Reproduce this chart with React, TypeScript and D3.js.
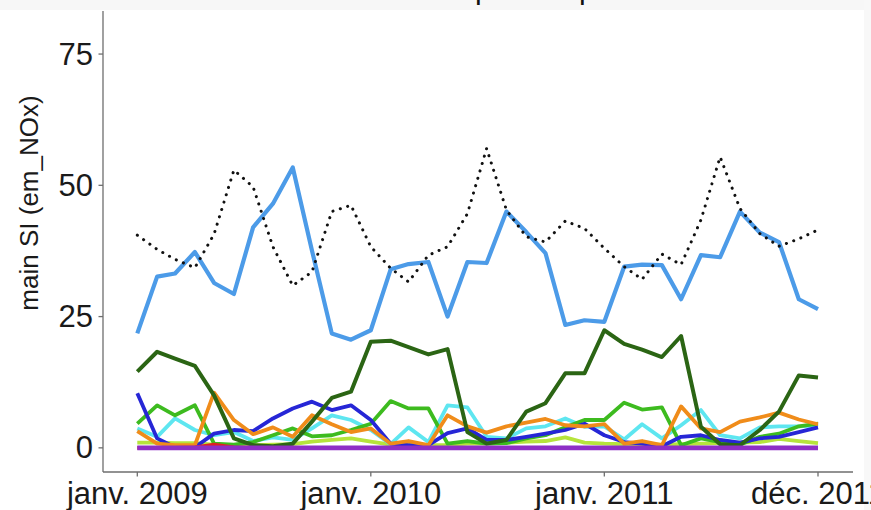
import React from "react";
import * as d3 from "d3";

const months: string[] = [
  "2009-01","2009-02","2009-03","2009-04","2009-05","2009-06","2009-07","2009-08","2009-09","2009-10","2009-11","2009-12",
  "2010-01","2010-02","2010-03","2010-04","2010-05","2010-06","2010-07","2010-08","2010-09","2010-10","2010-11","2010-12",
  "2011-01","2011-02","2011-03","2011-04","2011-05","2011-06","2011-07","2011-08","2011-09","2011-10","2011-11","2011-12",
];

const totalDotted = [40.5,37.8,35.9,34.3,40.7,52.9,49.7,38.3,30.9,33.5,45.0,46.2,38.3,34.2,31.6,36.7,38.3,44.6,57.0,45.3,40.2,39.2,43.2,41.8,38.0,34.5,32.1,36.9,34.9,43.4,55.4,45.6,40.8,38.4,39.8,41.5];
const lightBlue = [21.8,32.6,33.2,37.3,31.4,29.3,42.0,46.5,53.4,37.6,21.8,20.6,22.4,34.0,35.0,35.4,25.0,35.4,35.2,45.0,41.1,37.1,23.4,24.3,24.0,34.5,34.9,34.8,28.3,36.7,36.3,45.0,41.0,39.2,28.3,26.4];
const darkGreen = [14.5,18.3,17.0,15.6,10.0,1.8,0.5,0.3,0.8,5.0,9.5,10.7,20.2,20.4,19.2,17.8,18.8,3.0,0.8,1.5,6.9,8.5,14.2,14.2,22.4,19.8,18.7,17.3,21.3,4.0,0.7,0.5,3.4,6.9,13.8,13.4];
const darkBlue = [10.4,1.8,0.1,0.1,2.7,3.4,3.2,5.6,7.5,8.8,7.2,8.1,5.3,0.8,0.5,0.5,2.8,3.7,1.5,1.5,2.1,2.7,3.4,4.6,2.4,1.1,0.8,0.3,2.1,2.4,1.5,1.0,1.8,2.1,3.0,3.9];
const green = [4.6,8.1,6.2,8.1,0.8,0.6,1.1,2.4,3.7,2.2,2.4,3.4,4.6,8.9,7.5,7.5,0.8,1.3,0.8,0.9,1.8,2.4,3.9,5.3,5.3,8.6,7.3,7.7,0.5,1.8,1.1,0.6,2.1,2.7,4.1,4.6];
const cyan = [3.7,2.1,5.6,3.4,2.4,3.0,1.3,2.0,1.5,3.7,6.2,5.3,3.4,0.7,3.9,1.1,8.1,7.7,2.1,1.8,3.7,4.1,5.6,4.0,4.1,1.6,4.5,1.8,4.3,7.2,2.4,1.8,3.9,4.1,4.1,4.3];
const orange = [3.2,0.8,0.5,0.5,10.5,5.3,2.6,3.9,2.1,6.2,4.5,3.0,3.7,0.8,1.3,0.5,6.2,4.1,2.9,4.1,4.8,5.5,4.3,4.1,4.5,0.8,1.3,0.5,7.9,3.7,3.0,5.0,5.8,6.7,5.4,4.5];
const yellowGreen = [1.0,1.0,0.9,0.9,0.6,0.5,0.5,0.6,0.7,1.2,1.5,1.8,1.2,0.6,0.5,0.5,0.5,0.8,0.8,1.0,1.2,1.3,2.0,1.0,0.8,0.7,0.6,0.6,0.7,0.8,0.9,1.0,1.1,1.7,1.3,0.9];
const red = [0,0,0,0.1,0.6,0.1,0,0,0,0,0,0,0,0,0,0,0,0,0,0,0,0,0,0,0,0,0,0,0,0,0,0,0,0,0,0];
const purple = [0,0,0,0,0,0,0,0,0,0,0,0,0,0,0,0,0,0,0,0,0,0,0,0,0,0,0,0,0,0,0,0,0,0,0,0];

const yTicks = [0, 25, 50, 75];
const xTickDates = ["2009-01", "2010-01", "2011-01", "2011-12"];
const xTickLabels = ["janv. 2009", "janv. 2010", "janv. 2011", "déc. 2011"];

const parse = d3.timeParse("%Y-%m");

const seriesList = [
  { name: "yellowGreen", values: yellowGreen, color: "#b6e43c", width: 3.8, dotted: false },
  { name: "cyan", values: cyan, color: "#5ee6f0", width: 3.8, dotted: false },
  { name: "green", values: green, color: "#3dbb1f", width: 3.8, dotted: false },
  { name: "darkBlue", values: darkBlue, color: "#2626d6", width: 3.8, dotted: false },
  { name: "orange", values: orange, color: "#f08c1a", width: 3.8, dotted: false },
  { name: "darkGreen", values: darkGreen, color: "#2b6514", width: 4, dotted: false },
  { name: "red", values: red, color: "#e02020", width: 3.8, dotted: false },
  { name: "purple", values: purple, color: "#8e2fc6", width: 4.8, dotted: false },
  { name: "lightBlue", values: lightBlue, color: "#4c9be8", width: 4.2, dotted: false },
  { name: "total", values: totalDotted, color: "#111111", width: 3, dotted: true },
];

export default function App() {
  const W = 871;
  const H = 510;
  const left = 103;
  const top = 11;
  const bottom = 472;
  const axisRight = 853;

  const dates = months.map((m) => parse(m) as Date);
  const x = d3
    .scaleTime()
    .domain([dates[0], dates[dates.length - 1]])
    .range([137.3, 818]);
  const y = d3.scaleLinear().domain([-4.6, 83.2]).range([bottom, top]);

  const line = (vals: number[]) =>
    d3
      .line<number>()
      .x((_, i) => x(dates[i]))
      .y((v) => y(v))(vals.slice(0, dates.length)) || "";

  const font = "'Liberation Sans', Arial, sans-serif";

  return (
    <svg
      width={W}
      height={H}
      style={{ position: "absolute", left: 0, top: 0, background: "#ffffff" }}
      fontFamily={font}
    >
      <rect x={0} y={0} width={W} height={H} fill="#ffffff" />
      <rect x={0} y={0} width={W} height={10} fill="#f7f7f7" />
      <rect x={864} y={0} width={7} height={H} fill="#f8f8f8" />
      {/* cropped title descenders */}
      <text x={475} y={-1} fontSize={30} fill="#111">p</text>
      <text x={579} y={-1} fontSize={30} fill="#111">p</text>

      {/* axes */}
      <line x1={left} x2={left} y1={top} y2={bottom} stroke="#6e6e6e" strokeWidth={1.3} />
      <line x1={left} x2={axisRight} y1={bottom} y2={bottom} stroke="#6e6e6e" strokeWidth={1.3} />
      {yTicks.map((t) => (
        <g key={"y" + t}>
          <line x1={left - 4.5} x2={left} y1={y(t)} y2={y(t)} stroke="#6e6e6e" strokeWidth={1.3} />
          <text
            x={left - 10}
            y={y(t)}
            textAnchor="end"
            dominantBaseline="central"
            fontSize={31}
            fill="#1a1a1a"
          >
            {t}
          </text>
        </g>
      ))}
      {xTickDates.map((d, i) => {
        const px = x(parse(d) as Date);
        return (
          <g key={"x" + d}>
            <line x1={px} x2={px} y1={bottom} y2={bottom + 4.5} stroke="#6e6e6e" strokeWidth={1.3} />
            <text x={px} y={504} textAnchor="middle" fontSize={31} fill="#1a1a1a">
              {xTickLabels[i]}
            </text>
          </g>
        );
      })}
      <text
        transform={`translate(38, 203) rotate(-90)`}
        textAnchor="middle"
        fontSize={26}
        fill="#1a1a1a"
      >
        main SI (em_NOx)
      </text>

      {/* series */}
      {seriesList.map((s) => (
        <path
          key={s.name}
          d={line(s.values)}
          fill="none"
          stroke={s.color}
          strokeWidth={s.width}
          strokeLinejoin="round"
          strokeLinecap={s.dotted ? "round" : "butt"}
          strokeDasharray={s.dotted ? "0.1 7.6" : undefined}
        />
      ))}
    </svg>
  );
}
